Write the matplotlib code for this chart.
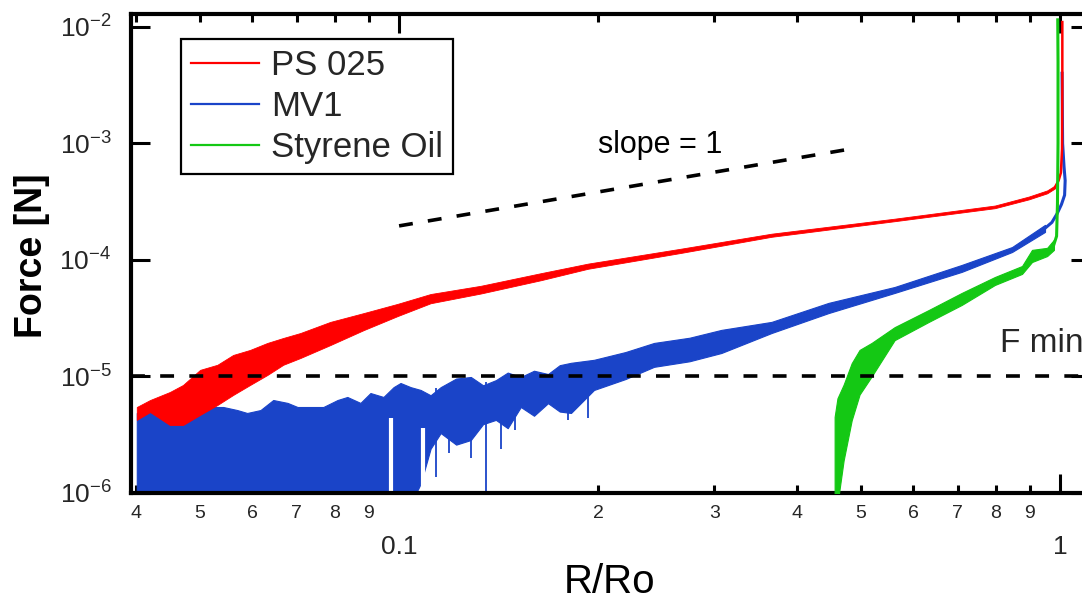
import numpy as np
import matplotlib
matplotlib.use('Agg')
import matplotlib.pyplot as plt
from matplotlib.lines import Line2D
from matplotlib.ticker import NullLocator

# ---------------- data ----------------
series_names = ['PS 025', 'MV1', 'Styrene Oil']
series_colors = ['#ff0000', '#1a44c8', '#14c814']

# PS 025 (red): noisy band, then steep rise near R/Ro = 1
ps_x = [0.0401, 0.0420, 0.0450, 0.0471, 0.0500, 0.0531, 0.0561, 0.0595, 0.0632,
        0.0668, 0.0709, 0.0787, 0.0884, 0.0995, 0.1116, 0.1329, 0.1639, 0.1931,
        0.2672, 0.366, 0.562, 0.797, 0.897, 0.956, 0.983]
ps_hi = [5.47e-6, 6.28e-6, 7.36e-6, 8.45e-6, 1.14e-5, 1.26e-5, 1.53e-5, 1.69e-5, 1.94e-5,
         2.14e-5, 2.36e-5, 2.94e-5, 3.5e-5, 4.2e-5, 5.1e-5, 6.0e-5, 7.7e-5, 9.3e-5,
         1.25e-4, 1.68e-4, 2.26e-4, 2.93e-4, 3.50e-4, 3.95e-4, 4.36e-4]
ps_lo = [4.24e-6, 4.95e-6, 3.83e-6, 3.83e-6, 4.68e-6, 5.69e-6, 6.94e-6, 8.45e-6, 1.03e-5,
         1.26e-5, 1.44e-5, 1.86e-5, 2.5e-5, 3.3e-5, 4.25e-5, 5.15e-5, 6.7e-5, 8.4e-5,
         1.15e-4, 1.58e-4, 2.15e-4, 2.78e-4, 3.31e-4, 3.73e-4, 4.12e-4]
ps_tail_x = [0.983, 0.995, 1.003, 1.007, 1.008, 1.008]
ps_tail_y = [4.24e-4, 4.8e-4, 5.6e-4, 9e-4, 3e-3, 1.1e-2]

# MV1 (blue): noise floor, then rising noisy band
mv_x = [0.0401, 0.0420, 0.0440, 0.0455, 0.0471, 0.0495, 0.0518, 0.0542, 0.0569, 0.0589,
        0.0617, 0.0645, 0.0678, 0.0702, 0.0734, 0.0768, 0.0807, 0.0835, 0.0874, 0.0905,
        0.0947, 0.0981, 0.1005, 0.1041, 0.1078, 0.1116, 0.1156, 0.1220, 0.1284, 0.1340,
        0.1401, 0.1460, 0.1528, 0.1600, 0.1680, 0.1750, 0.182, 0.1972, 0.2200, 0.2431,
        0.2750, 0.3073, 0.366, 0.4464, 0.562, 0.710, 0.846, 0.949]
mv_hi = [4.86e-6, 5.47e-6, 5.93e-6, 6.67e-6, 5.15e-6, 6.28e-6, 5.47e-6, 5.47e-6, 5.15e-6, 4.86e-6,
         5.15e-6, 6.28e-6, 5.93e-6, 5.47e-6, 5.47e-6, 5.47e-6, 6.28e-6, 6.67e-6, 5.93e-6, 7.21e-6,
         6.67e-6, 8.1e-6, 8.79e-6, 8.1e-6, 7.66e-6, 6.9e-6, 8.1e-6, 9.6e-6, 9.9e-6, 8.4e-6,
         9.3e-6, 1.08e-5, 9.9e-6, 1.12e-5, 1.05e-5, 1.25e-5, 1.31e-5, 1.39e-5, 1.62e-5, 1.94e-5,
         2.15e-5, 2.51e-5, 2.94e-5, 4.28e-5, 5.86e-5, 9.06e-5, 1.29e-4, 2.0e-4]
mv_lo = [8e-7, 8e-7, 8e-7, 8e-7, 8e-7, 8e-7, 8e-7, 8e-7, 8e-7, 8e-7,
         8e-7, 8e-7, 8e-7, 8e-7, 8e-7, 8e-7, 8e-7, 8e-7, 8e-7, 8e-7,
         8e-7, 8e-7, 8e-7, 8e-7, 1.2e-6, 2.4e-6, 3.27e-6, 2.6e-6, 2.85e-6, 3.9e-6,
         4.24e-6, 3.6e-6, 5.47e-6, 4.6e-6, 5.9e-6, 5.0e-6, 4.86e-6, 7.66e-6, 9.5e-6, 1.21e-5,
         1.35e-5, 1.59e-5, 2.36e-5, 3.5e-5, 5.21e-5, 7.9e-5, 1.17e-4, 1.74e-4]
mv_tail_x = [0.949, 0.972, 0.990, 1.005, 1.016, 1.018, 1.014, 1.009, 1.008, 1.007]
mv_tail_y = [1.87e-4, 2.1e-4, 2.5e-4, 3.0e-4, 3.6e-4, 4.8e-4, 6.3e-4, 1.0e-3, 2.0e-3, 4.0e-3]
mv_spike_x = [0.1136, 0.1189, 0.1284, 0.1353, 0.1425, 0.1500, 0.180, 0.1931]
mv_spike_lo = [1.37e-6, 2.2e-6, 2.0e-6, 8e-7, 2.4e-6, 3.5e-6, 4.2e-6, 4.4e-6]
mv_spike_hi = [8e-6, 8e-6, 9e-6, 9e-6, 9e-6, 9.5e-6, 1.2e-5, 1.3e-5]
mv_gap_x = [0.0971, 0.1085]
mv_gap_top = [4.4e-6, 3.6e-6]

# Styrene Oil (green)
so_x = [0.456, 0.4605, 0.4705, 0.4839, 0.4974, 0.5187, 0.562, 0.633, 0.710, 0.797,
        0.876, 0.907, 0.956, 0.979]
so_hi = [4.5e-6, 6.5e-6, 8.5e-6, 1.3e-5, 1.69e-5, 1.94e-5, 2.65e-5, 3.72e-5, 5.21e-5, 7.14e-5,
         8.87e-5, 1.22e-4, 1.27e-4, 1.49e-4]
so_lo = [8e-7, 8e-7, 1.9e-6, 4.2e-6, 7e-6, 1.0e-5, 2.05e-5, 2.94e-5, 4.11e-5, 6.1e-5,
         7.59e-5, 9.6e-5, 1.08e-4, 1.22e-4]
so_tail_x = [0.979, 0.988, 0.991, 0.993, 0.993, 0.992]
so_tail_y = [1.36e-4, 1.6e-4, 3e-4, 1e-3, 5e-3, 1.15e-2]

# reference lines
slope_x = [0.1, 0.484]
slope_y = [1.96e-4, 9.0e-4]
fmin_y = 1e-5

# ticks
x_major = [0.1, 1.0]
x_major_labels = ['0.1', '1']
x_minor = [0.04, 0.05, 0.06, 0.07, 0.08, 0.09, 0.2, 0.3, 0.4, 0.5, 0.6, 0.7, 0.8, 0.9]
x_minor_labels = ['4', '5', '6', '7', '8', '9', '2', '3', '4', '5', '6', '7', '8', '9']
y_ticks = [1e-6, 1e-5, 1e-4, 1e-3, 1e-2]
y_tick_labels = [r'$\mathregular{10^{-6}}$', r'$\mathregular{10^{-5}}$', r'$\mathregular{10^{-4}}$',
                 r'$\mathregular{10^{-3}}$', r'$\mathregular{10^{-2}}$']

# ---------------- figure ----------------
plt.rcParams['font.family'] = ['Liberation Sans', 'DejaVu Sans']
plt.rcParams['mathtext.fontset'] = 'custom'
plt.rcParams['mathtext.rm'] = 'Liberation Sans'
plt.rcParams['lines.scale_dashes'] = False

W, H = 1082, 601
fig = plt.figure(figsize=(W / 100, H / 100), dpi=100)
L, R, T, B = 131, 1090, 14, 493
ax = fig.add_axes([L / W, 1 - B / H, (R - L) / W, (B - T) / H])
ax.set_xscale('log')
ax.set_yscale('log')

c_ps, c_mv, c_so = series_colors

# MV1
ax.fill_between(mv_x, mv_lo, mv_hi, color=c_mv, lw=0.8, zorder=2)
ax.vlines(mv_spike_x, mv_spike_lo, mv_spike_hi, color=c_mv, lw=1.3, zorder=2)
ax.vlines(mv_gap_x, [8e-7] * len(mv_gap_x), mv_gap_top, color='white', lw=3, zorder=2.2)
ax.plot(mv_tail_x, mv_tail_y, color=c_mv, lw=2.2, zorder=2)

# PS 025
ax.fill_between(ps_x, ps_lo, ps_hi, color=c_ps, lw=0.6, zorder=3)
ax.plot(ps_tail_x, ps_tail_y, color=c_ps, lw=1.8, zorder=3)

# Styrene Oil
ax.fill_between(so_x, so_lo, so_hi, color=c_so, lw=0.8, zorder=4)
ax.plot(so_tail_x, so_tail_y, color=c_so, lw=2.2, zorder=4)

# dashed reference lines
dash = (10, 11)
ax.plot(slope_x, slope_y, color='black', lw=2.6, dashes=dash, zorder=5)
ax.axhline(fmin_y, color='black', lw=2.6, dashes=dash, zorder=5)

ax.set_xticks(x_major, labels=x_major_labels)
ax.set_xticks(x_minor, labels=x_minor_labels, minor=True)
ax.set_yticks(y_ticks, labels=y_tick_labels)
ax.yaxis.set_minor_locator(NullLocator())
ax.set_xlim(0.0393, 1.11)
ax.set_ylim(1e-6, 1.29e-2)

ax.tick_params(which='both', direction='in', top=True, right=True,
               labeltop=False, labelright=False, width=2.2, color='black',
               labelcolor='#262626')
ax.tick_params(axis='x', which='major', length=14, pad=30, labelsize=19)
ax.tick_params(axis='x', which='minor', length=6, pad=9, labelsize=14)
ax.tick_params(axis='y', which='major', length=14, pad=14, labelsize=19)
for s in ax.spines.values():
    s.set_linewidth(3)

# axis titles
fig.text(32 / W, 1 - 256 / H, 'Force [N]', rotation=90, ha='center', va='center',
         fontsize=27, fontweight='bold', color='black')
fig.text(610 / W, 1 - 582 / H, 'R/Ro', ha='center', va='center',
         fontsize=29, color='black')

# annotations
fig.text(598 / W, 1 - 145 / H, 'slope = 1', ha='left', va='center', fontsize=22, color='black')
fig.text(1000 / W, 1 - 343 / H, 'F min', ha='left', va='center', fontsize=24, color='#262626')

# legend
handles = [Line2D([], [], color=c, lw=1.6) for c in series_colors]
leg = ax.legend(handles, series_names, loc='upper left',
                bbox_to_anchor=(181 / W, 1 - 39 / H), bbox_transform=fig.transFigure,
                borderaxespad=0, frameon=True, fancybox=False, framealpha=1,
                edgecolor='black', fontsize=25, handlelength=1.95, handletextpad=0.34,
                borderpad=0.3, labelspacing=0.22)
leg.get_frame().set_linewidth(1.6)
for t in leg.get_texts():
    t.set_color('#262626')
leg.set_zorder(10)

fig.savefig('out.png', dpi=100)
